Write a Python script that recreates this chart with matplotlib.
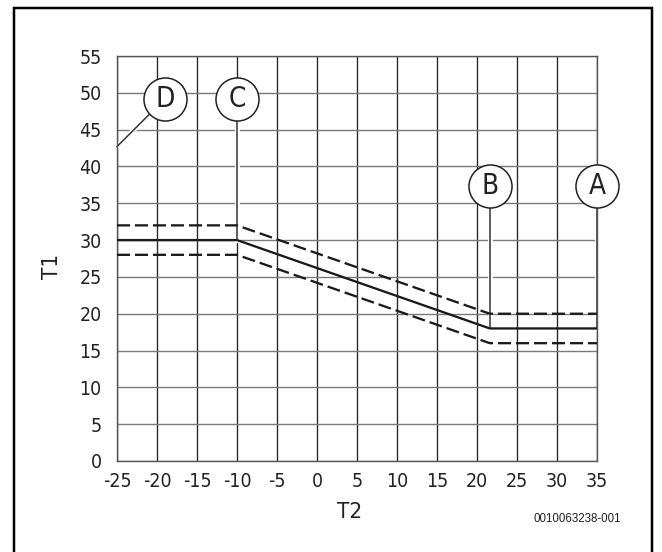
import matplotlib
matplotlib.use("Agg")
import matplotlib.pyplot as plt
from matplotlib.patches import Rectangle
import matplotlib.patheffects as pe
from matplotlib import font_manager as fm

# Data
T2_knots = [-25, -10, 21.6, 35]
T1_set = [30, 30, 18, 18]
T1_upper = [32, 32, 20, 20]
T1_lower = [28, 28, 16, 16]
x_ticks = [-25, -20, -15, -10, -5, 0, 5, 10, 15, 20, 25, 30, 35]
y_ticks = [0, 5, 10, 15, 20, 25, 30, 35, 40, 45, 50, 55]
labels = ["D", "C", "B", "A"]
label_x = [-19, -10, 21.6, 35]
label_y = [49.2, 49.2, 37.4, 37.4]
leader_start = [(-19, 49.2), (-10, 49.2), (21.6, 37.4), (35, 37.4)]
leader_end = [(-25, 42.7), (-10, 30), (21.6, 18), (35, 18)]

W, H = 662, 552
fig = plt.figure(figsize=(W / 100, H / 100), dpi=100)

names = {f.name for f in fm.fontManager.ttflist}
cond = [f for f in fm.fontManager.ttflist if f.name == "DejaVu Sans" and f.stretch in ("condensed", 500 - 100, "semi-condensed")]
if "Liberation Sans Narrow" in names:
    FP = dict(family=["Liberation Sans Narrow", "DejaVu Sans"])
elif cond:
    FP = dict(family=["DejaVu Sans"], stretch="condensed")
else:
    FP = dict(family=["Liberation Sans", "DejaVu Sans"])

plt.rcParams['font.family'] = FP["family"]
if "stretch" in FP:
    plt.rcParams['font.stretch'] = FP["stretch"]

left, right, bottom, top = 117, 597, 461, 56
ax = fig.add_axes([left / W, 1 - bottom / H, (right - left) / W, (bottom - top) / H])
ax.set_xlim(-25, 35)
ax.set_ylim(0, 55)
ax.set_xticks(x_ticks)
ax.set_yticks(y_ticks)
ax.tick_params(length=0, labelsize=14, colors="#222222")
ax.tick_params(axis="x", pad=8)
ax.tick_params(axis="y", pad=11)
ax.set_xticklabels([str(v) for v in x_ticks])
ax.set_yticklabels([str(v) for v in y_ticks])

for v in x_ticks:
    ax.axvline(v, color="#2a2a2a", lw=1.0, zorder=1)
for v in y_ticks:
    ax.axhline(v, color="#7a7a7a", lw=1.0, zorder=1)
for s in ax.spines.values():
    s.set_color("#555555")
    s.set_linewidth(1.0)

lw_d = 2.3 * 0.72
ax.plot(T2_knots, T1_upper, color="#1a1a1a", lw=lw_d,
        dashes=(13 * 0.72 / lw_d, 5 * 0.72 / lw_d), zorder=3)
ax.plot(T2_knots, T1_lower, color="#1a1a1a", lw=lw_d,
        dashes=(13 * 0.72 / lw_d, 5 * 0.72 / lw_d), zorder=3)
ax.plot(T2_knots, T1_set, color="#1a1a1a", lw=2.3 * 0.72, zorder=3,
        solid_capstyle="butt")

halo = [pe.Stroke(linewidth=3.5, foreground="white"), pe.Normal()]
for (x0, y0), (x1, y1) in zip(leader_start, leader_end):
    ax.plot([x0, x1], [y0, y1], color="#333333", lw=1.1, zorder=2.5,
            path_effects=halo, clip_on=False)

for lab, x, y in zip(labels, label_x, label_y):
    ax.plot([x], [y], marker="o", markersize=31, mfc="white", mec="#222222",
            mew=1.1, zorder=5, clip_on=False)
    ax.text(x, y, lab, ha="center", va="center", fontsize=20, color="#222222",
            zorder=6)

fig.text(52 / W, 1 - 266 / H, "T1", rotation=90, ha="center", va="center",
         fontsize=16, color="#222222")
fig.text(350 / W, 1 - 512 / H, "T2", ha="center", va="center",
         fontsize=16, color="#222222")
fig.text(577 / W, 1 - 519 / H, "0010063238-001", ha="center", va="center",
         fontsize=8.3, color="#222222", family=["Liberation Sans", "DejaVu Sans"],
         stretch="normal")

fig.add_artist(Rectangle((14 / W, -0.05), (652 - 14) / W, (1 - 8 / H) + 0.05,
                         transform=fig.transFigure, fill=False,
                         edgecolor="black", lw=2.5 * 0.72))

fig.savefig("out.png", dpi=100)
